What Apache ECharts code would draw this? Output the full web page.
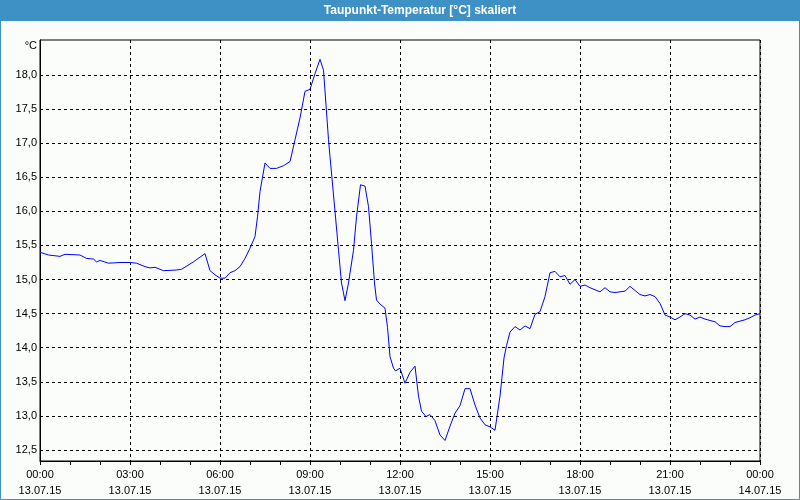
<!DOCTYPE html>
<html>
<head>
<meta charset="utf-8">
<script src="https://cdn.jsdelivr.net/npm/echarts@6/dist/echarts.min.js"></script>
<style>html,body{margin:0;padding:0;background:#fbfdfb;}#c{width:800px;height:500px;}</style>
</head>
<body>
<div id="c"></div>
<script>
var titleText = 'Taupunkt-Temperatur [°C] skaliert';
var unitName = '°C';
// minutes since 13.07.15 00:00
var minutes = [0,17,40,50,80,93,107,113,120,137,160,180,193,210,220,230,247,273,283,307,330,340,350,360,370,380,390,400,410,420,430,435,440,450,460,473,487,500,510,520,530,540,550,560,567,577,580,590,597,603,610,617,627,633,641,650,657,663,669,673,680,690,695,700,707,711,720,730,740,750,757,763,772,780,790,800,810,820,830,840,850,860,870,880,890,900,910,920,928,933,940,950,960,970,980,990,1000,1010,1020,1030,1040,1050,1060,1070,1080,1090,1100,1110,1120,1130,1140,1150,1160,1170,1180,1190,1200,1210,1220,1230,1240,1250,1260,1270,1280,1290,1300,1310,1320,1330,1340,1350,1360,1370,1380,1390,1400,1410,1420,1430,1440];
var dewPoint = [15.40,15.36,15.34,15.37,15.36,15.31,15.30,15.26,15.28,15.24,15.25,15.25,15.24,15.19,15.17,15.18,15.13,15.14,15.15,15.26,15.38,15.13,15.07,15.02,15.02,15.10,15.13,15.19,15.31,15.46,15.63,15.92,16.29,16.71,16.63,16.63,16.67,16.73,17.05,17.37,17.76,17.79,18.02,18.23,18.07,17.05,16.80,16.00,15.43,14.95,14.69,14.95,15.43,15.92,16.39,16.37,16.07,15.53,14.95,14.70,14.64,14.58,14.30,13.87,13.70,13.66,13.70,13.48,13.64,13.73,13.29,13.07,12.99,13.02,12.93,12.72,12.64,12.85,13.04,13.15,13.40,13.40,13.16,12.97,12.87,12.84,12.79,13.29,13.85,14.03,14.23,14.31,14.26,14.32,14.28,14.49,14.53,14.75,15.10,15.12,15.04,15.06,14.93,15.00,14.90,14.92,14.88,14.85,14.82,14.88,14.82,14.81,14.82,14.83,14.90,14.84,14.78,14.76,14.78,14.75,14.65,14.48,14.45,14.41,14.45,14.50,14.48,14.42,14.45,14.42,14.40,14.38,14.32,14.31,14.31,14.37,14.39,14.41,14.44,14.48,14.50];
var yTicks = [12.5,13.0,13.5,14.0,14.5,15.0,15.5,16.0,16.5,17.0,17.5,18.0];
var xTickHours = [0,3,6,9,12,15,18,21,24];

var seriesData = minutes.map(function(m,i){ return [m/60, dewPoint[i]]; });
var font = 'Liberation Sans, Arial, sans-serif';
var chart = echarts.init(document.getElementById('c'), null, {renderer:'canvas'});
chart.setOption({
  animation:false,
  backgroundColor:'#fbfdfb',
  graphic:[
    {type:'rect', shape:{x:0,y:0,width:800,height:21}, style:{fill:'#3d91c4'}, silent:true},
    {type:'rect', shape:{x:0.5,y:0.5,width:799,height:499}, style:{fill:null, stroke:'#3d91c4', lineWidth:1}, silent:true},
    {type:'text', x:420, y:11, style:{text:titleText, fill:'#ffffff', font:'bold 12px '+font, textAlign:'center', textVerticalAlign:'middle'}, silent:true}
  ],
  grid:{left:40, right:40, top:40, bottom:39, show:true, borderColor:'#000', borderWidth:1, backgroundColor:'transparent'},
  xAxis:{
    type:'value', min:0, max:24, interval:3,
    axisLine:{show:true, lineStyle:{color:'#000', width:1}},
    axisTick:{show:true, length:4, lineStyle:{color:'#000'}},
    minorTick:{show:true, splitNumber:3, length:4, lineStyle:{color:'#000'}},
    splitLine:{show:true, lineStyle:{color:'#000', type:[3,3], width:1}},
    axisLabel:{
      color:'#000', fontFamily:font, fontSize:11, margin:6, lineHeight:16,
      showMinLabel:true, showMaxLabel:true,
      formatter:function(v){
        var h = Math.round(v);
        var day = h >= 24 ? '14.07.15' : '13.07.15';
        var hh = h % 24;
        return (hh<10?'0':'')+hh+':00\n'+day;
      }
    }
  },
  yAxis:{
    type:'value', min:12.339, max:18.513,
    name:unitName, nameLocation:'end', nameGap:-6,
    nameTextStyle:{color:'#000', fontFamily:font, fontSize:11, align:'right', verticalAlign:'middle', padding:[0,3,0,0]},
    axisLine:{show:true, lineStyle:{color:'#000', width:1}},
    axisTick:{show:false, customValues:yTicks},
    splitLine:{show:true, lineStyle:{color:'#000', type:[3,3], width:1}},
    axisLabel:{
      customValues:yTicks, color:'#000', fontFamily:font, fontSize:11, margin:3,
      formatter:function(v){ return v.toFixed(1).replace('.', ','); }
    }
  },
  series:[{
    type:'line', data:seriesData, showSymbol:false, symbol:'none',
    lineStyle:{color:'#0000ff', width:1}, z:5
  }]
});
</script>
</body>
</html>
